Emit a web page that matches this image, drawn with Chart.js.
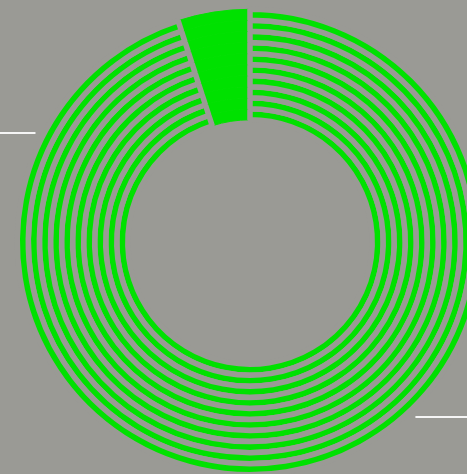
<html>

<head>
    <style>
        body {
            background-color: rgb(154, 154, 149);
            margin: 0;
            overflow: hidden;
        }

        #box {
            position: absolute;
            left: 0;
            top: 0;
            width: 500px;
            height: 484px;
        }
    </style>
    <script src="https://cdn.jsdelivr.net/npm/chart.js@4.4.0/dist/chart.umd.min.js"></script>
</head>

<body>
    <div id="box">
        <canvas id="myChart"></canvas>
    </div>
</body>

<script>
    // ten rings, each split the same way
    var ringNames = ['Ring 1', 'Ring 2', 'Ring 3', 'Ring 4', 'Ring 5', 'Ring 6', 'Ring 7', 'Ring 8', 'Ring 9', 'Ring 10'];
    var sliceLabels = ['Slice', 'Rest'];
    var sliceValues = [5, 95];

    var green = 'rgb(0, 225, 0)';
    var gray = 'rgb(154, 154, 149)';

    // the two white leader lines (angle clockwise from top, in degrees)
    var leaderAngles = [136.6, 297];

    var leaderLines = {
        id: 'leaderLines',
        afterDatasetsDraw: function (chart) {
            var arc = chart.getDatasetMeta(0).data[0];
            var ctx = chart.ctx;
            var r = arc.outerRadius + 8;
            ctx.save();
            ctx.strokeStyle = 'rgb(245, 245, 245)';
            ctx.lineWidth = 2;
            leaderAngles.forEach(function (deg) {
                var a = (deg - 90) * Math.PI / 180;
                var px = arc.x + r * Math.cos(a);
                var py = Math.round(arc.y + r * Math.sin(a));
                var endX = px > arc.x ? chart.width : 0;
                ctx.beginPath();
                ctx.moveTo(px, py);
                ctx.lineTo(endX, py);
                ctx.stroke();
            });
            ctx.restore();
        }
    };

    var datasets = [];
    for (var i = 0; i < ringNames.length; i++) {
        datasets.push({
            label: ringNames[i],
            data: sliceValues,
            backgroundColor: [green, green],
            borderColor: [green, gray],
            borderWidth: [1, 5.5],
            hoverOffset: 0
        });
    }

    var chart = new Chart(document.getElementById('myChart').getContext('2d'), {
        type: 'doughnut',
        data: {
            labels: sliceLabels,
            datasets: datasets
        },
        options: {
            responsive: true,
            maintainAspectRatio: false,
            animation: false,
            radius: 232.75,
            cutout: '52.5%',
            rotation: -18,
            layout: { padding: 0 },
            plugins: {
                legend: { display: false },
                tooltip: { enabled: false }
            }
        },
        plugins: [leaderLines]
    });
</script>

</html>
